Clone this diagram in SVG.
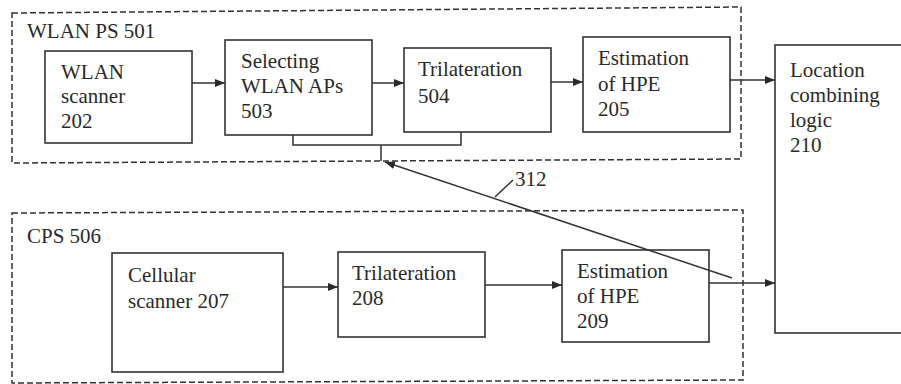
<svg xmlns="http://www.w3.org/2000/svg" width="901" height="384" viewBox="0 0 901 384">
  <defs>
    <marker id="arrow" viewBox="0 0 10 8" refX="10" refY="4" markerWidth="10" markerHeight="8" markerUnits="userSpaceOnUse" orient="auto">
      <path d="M0,0 L10,4 L0,8 Z" fill="#2a2a2a"/>
    </marker>
    <style>
      .box { fill: #fff; stroke: #333; stroke-width: 1.6; }
      .group { fill: none; stroke: #333; stroke-width: 1.5; stroke-dasharray: 6 3; }
      .link { fill: none; stroke: #333; stroke-width: 1.5; }
      .flow { fill: none; stroke: #333; stroke-width: 1.5; marker-end: url(#arrow); }
      .lbl { font-family: "Liberation Serif", Tinos, "Times New Roman", Times, "Nimbus Roman", "Nimbus Roman No9 L", FreeSerif, "DejaVu Serif", "Noto Serif", serif; font-size: 21px; fill: #2a2a2a; }
    </style>
  </defs>

  <rect width="901" height="384" fill="#fff"/>

  <!-- subsystem containers -->
  <g id="wlan-ps-501">
    <path class="group" d="M12,13 L741,7 L741,159 L12,163 Z"/>
    <text class="lbl" x="27" y="38">WLAN PS 501</text>
  </g>
  <g id="cps-506">
    <path class="group" d="M12,213 L743,210 L743,380 L12,383 Z"/>
    <text class="lbl" x="27" y="243">CPS 506</text>
  </g>

  <!-- WLAN positioning chain -->
  <g id="wlan-scanner-202">
    <rect class="box" x="45" y="51" width="147" height="92"/>
    <text class="lbl" x="61" y="79">WLAN</text>
    <text class="lbl" x="61" y="103">scanner</text>
    <text class="lbl" x="61" y="128">202</text>
  </g>
  <g id="selecting-wlan-aps-503">
    <rect class="box" x="225" y="40" width="147" height="95"/>
    <text class="lbl" x="241" y="68">Selecting</text>
    <text class="lbl" x="241" y="93">WLAN APs</text>
    <text class="lbl" x="241" y="118">503</text>
  </g>
  <g id="trilateration-504">
    <rect class="box" x="404" y="48" width="147" height="84"/>
    <text class="lbl" x="418" y="76">Trilateration</text>
    <text class="lbl" x="418" y="103">504</text>
  </g>
  <g id="estimation-hpe-205">
    <rect class="box" x="583" y="37" width="147" height="95"/>
    <text class="lbl" x="598" y="65">Estimation</text>
    <text class="lbl" x="598" y="91">of HPE</text>
    <text class="lbl" x="598" y="116">205</text>
  </g>

  <!-- cellular positioning chain -->
  <g id="cellular-scanner-207">
    <rect class="box" x="112" y="253" width="171" height="119"/>
    <text class="lbl" x="128" y="282">Cellular</text>
    <text class="lbl" x="128" y="308">scanner 207</text>
  </g>
  <g id="trilateration-208">
    <rect class="box" x="338" y="252" width="147" height="85"/>
    <text class="lbl" x="352" y="280">Trilateration</text>
    <text class="lbl" x="352" y="305">208</text>
  </g>
  <g id="estimation-hpe-209">
    <rect class="box" x="562" y="250" width="147" height="92"/>
    <text class="lbl" x="577" y="278">Estimation</text>
    <text class="lbl" x="577" y="303">of HPE</text>
    <text class="lbl" x="577" y="328">209</text>
  </g>

  <!-- combining stage, runs off the right edge -->
  <g id="location-combining-logic-210">
    <rect class="box" x="775" y="45" width="140" height="288"/>
    <text class="lbl" x="790" y="77">Location</text>
    <text class="lbl" x="790" y="102">combining</text>
    <text class="lbl" x="790" y="127">logic</text>
    <text class="lbl" x="790" y="152">210</text>
  </g>

  <!-- connectors -->
  <g id="connectors">
    <line class="flow" x1="192" y1="83" x2="225" y2="83"/>
    <line class="flow" x1="372" y1="83" x2="404" y2="83"/>
    <line class="flow" x1="551" y1="82" x2="583" y2="82"/>
    <line class="flow" x1="730" y1="80" x2="775" y2="80"/>

    <line class="flow" x1="283" y1="287" x2="338" y2="287"/>
    <line class="flow" x1="485" y1="285" x2="562" y2="285"/>
    <line class="flow" x1="709" y1="283" x2="775" y2="283"/>

    <!-- feedback 312 into the AP selection / trilateration bracket -->
    <path class="link" d="M293,135 L293,145 L461,145 L461,132"/>
    <line class="link" x1="381" y1="145" x2="381" y2="161"/>
    <line class="flow" x1="732" y1="278" x2="385" y2="162"/>
    <line class="link" x1="495" y1="197" x2="513" y2="180"/>
    <text class="lbl" x="515" y="186">312</text>
  </g>
</svg>
